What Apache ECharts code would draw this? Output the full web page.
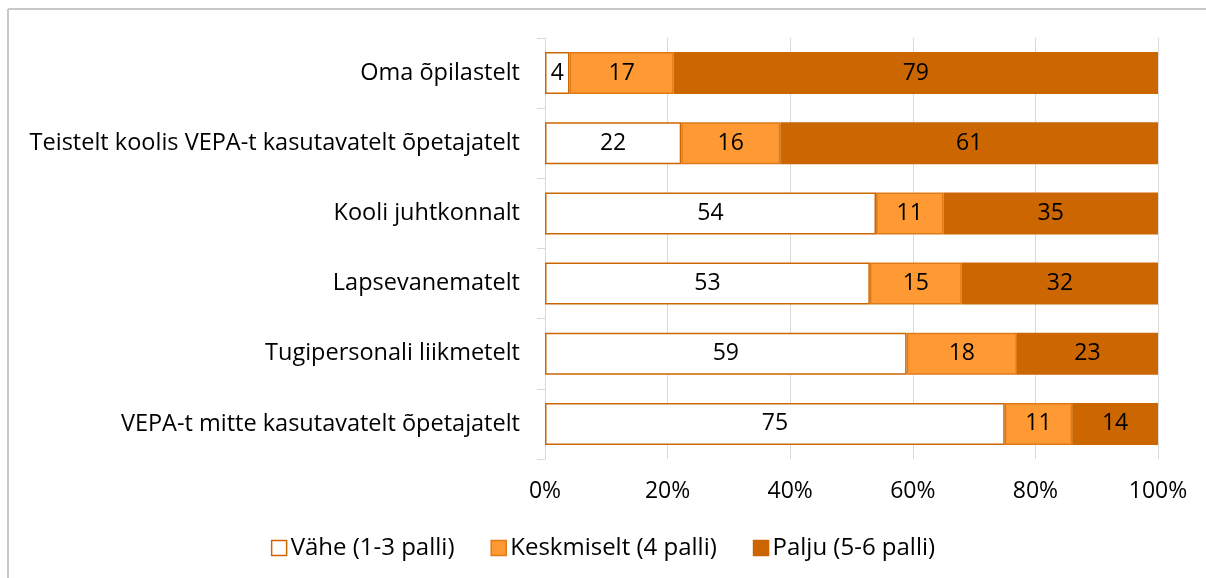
<!DOCTYPE html>
<html><head><meta charset="utf-8">
<script src="https://cdn.jsdelivr.net/npm/echarts@6/dist/echarts.min.js"></script>
<style>html,body{margin:0;padding:0;background:#fff}#c{width:1206px;height:578px}</style>
</head><body><div id="c"></div>
<script>
const categories = ["Oma õpilastelt","Teistelt koolis VEPA-t kasutavatelt õpetajatelt","Kooli juhtkonnalt","Lapsevanematelt","Tugipersonali liikmetelt","VEPA-t mitte kasutavatelt õpetajatelt"];
const seriesNames = ["Vähe (1-3 palli)","Keskmiselt (4 palli)","Palju (5-6 palli)"];
const vahe = [4,22,54,53,59,75];
const keskmiselt = [17,16,11,15,18,11];
const palju = [79,61,35,32,23,14];
const xTicks = [0,0.2,0.4,0.6,0.8,1];

const raw = [vahe, keskmiselt, palju];
const totals = categories.map((c,i)=>vahe[i]+keskmiselt[i]+palju[i]);
const fills = ["#ffffff","#ff9933","#cc6600"];
const borders = ["#cc6600","#e07b1a","#cc6600"];
const FONT = "Open Sans";
const FS = 23.5;

const chart = echarts.init(document.getElementById('c'));
chart.setOption({
  animation:false,
  textStyle:{fontFamily:FONT},
  graphic:[
    {type:'line',shape:{x1:8,y1:9,x2:1206,y2:9},style:{stroke:'#c8c8c8',lineWidth:2},silent:true},
    {type:'line',shape:{x1:8,y1:9,x2:8,y2:578},style:{stroke:'#c8c8c8',lineWidth:2},silent:true}
  ],
  grid:{left:545,right:48,top:38,bottom:119,containLabel:false},
  xAxis:{type:'value',min:0,max:1,interval:0.2,
    axisLine:{show:false},axisTick:{show:false},
    axisLabel:{formatter:v=>Math.round(v*100)+'%',color:'#000',fontSize:23,fontFamily:FONT,margin:21},
    splitLine:{show:true,lineStyle:{color:'#d9d9d9',width:1}}},
  yAxis:{type:'category',data:categories,inverse:true,
    axisLine:{show:true,lineStyle:{color:'#d9d9d9',width:1}},
    axisTick:{show:true,length:8,lineStyle:{color:'#d9d9d9'}},
    axisLabel:{color:'#000',fontSize:FS,fontFamily:FONT,margin:25}},
  legend:{bottom:13,left:'center',itemWidth:15,itemHeight:15,itemGap:36,
    icon:'rect',
    textStyle:{color:'#000',fontSize:24,fontFamily:FONT,padding:[0,0,0,-1]},
    data:seriesNames.map((n,i)=>({name:n,itemStyle:{color:fills[i],borderColor:borders[i],borderWidth:1.5}}))},
  series:seriesNames.map((n,si)=>({
    name:n,type:'bar',stack:'total',barWidth:42,
    itemStyle:{color:fills[si],borderColor:borders[si],borderWidth:1.5},
    label:{show:true,position:'inside',color:'#000',fontSize:23,fontFamily:FONT,
      formatter:p=>String(raw[si][p.dataIndex])},
    data:raw[si].map((v,i)=>v/totals[i])
  }))
});
</script></body></html>
